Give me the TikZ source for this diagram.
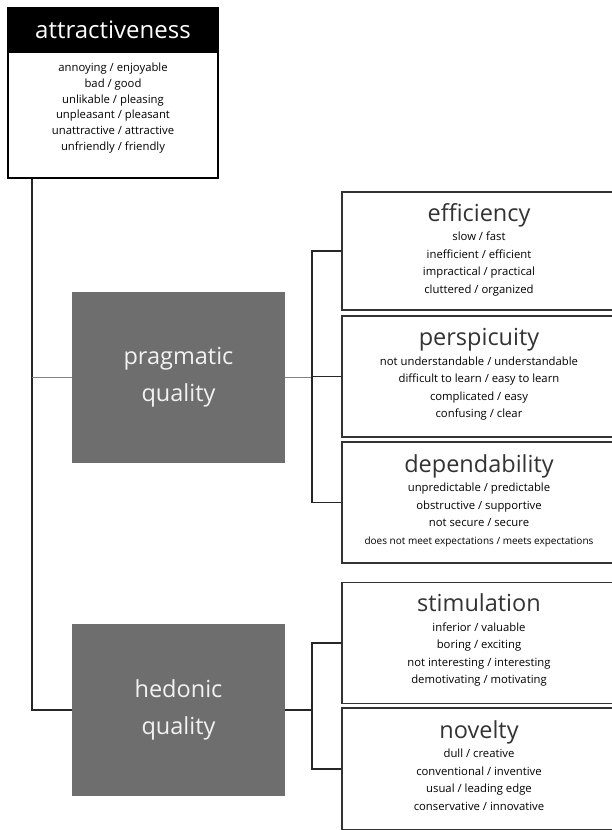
\documentclass[tikz,border=0pt]{standalone}
\usepackage{fontspec}
\setmainfont{Open Sans}
\usetikzlibrary{positioning,calc}

\newcommand{\qhead}[1]{{\fontsize{23.5}{26}\selectfont\color{black!80}#1}}

\tikzset{
  headbar/.style={fill=black, draw=black, line width=1.2pt, text=white, minimum width=210pt, minimum height=44pt, inner sep=0pt, font=\fontsize{24}{26}\selectfont},
  itemlist/.style={align=center, inner sep=0pt, font=\fontsize{11.3}{17.5}\selectfont},
  scalebox/.style={draw=black!80, line width=1.4pt, minimum width=274pt, inner sep=0pt},
  factor/.style={fill=black!57, text=black!5, minimum width=213pt, inner sep=0pt, align=center, font=\fontsize{23.5}{37}\selectfont},
  link/.style={line width=1.2pt, black!85}
}

\begin{document}
\begin{tikzpicture}[x=1pt, y=-1pt]
\useasboundingbox (0,0) rectangle (612,830);

% Attractiveness
\node[headbar] (attr) at (113,30) {attractiveness};
\node[draw=black, line width=1.2pt, minimum width=210pt, minimum height=126pt] (attrbody) at (113,115) {};
\node[itemlist, font=\fontsize{11.3}{15.8}\selectfont] (attrtxt) at (113,108)
  {annoying / enjoyable\\ bad / good\\ unlikable / pleasing\\ unpleasant / pleasant\\ unattractive / attractive\\ unfriendly / friendly};

% Factors
\node[factor, minimum height=171pt] (prag) at (178.5,377.5) {pragmatic\\quality};
\node[factor, minimum height=172pt] (hed) at (178.5,710) {hedonic\\quality};

% Pragmatic scales
\node[scalebox, minimum height=118pt] (eff) at (479,251) {};
\node[scalebox, minimum height=121pt] (per) at (479,376.5) {};
\node[scalebox, minimum height=121pt] (dep) at (479,502.5) {};
\node[itemlist, below=12pt of eff.north] (efftxt)
  {\qhead{efficiency}\\[2pt] slow / fast\\ inefficient / efficient\\ impractical / practical\\ cluttered / organized};
\node[itemlist, below=13pt of per.north] (pertxt)
  {\qhead{perspicuity}\\[2pt] not understandable / understandable\\ difficult to learn / easy to learn\\ complicated / easy\\ confusing / clear};
\node[itemlist, below=13pt of dep.north] (deptxt)
  {\qhead{dependability}\\[2pt] unpredictable / predictable\\ obstructive / supportive\\ not secure / secure\\ {\fontsize{10}{15}\selectfont does not meet expectations / meets expectations}};

% Hedonic scales
\node[scalebox, minimum height=121pt] (stim) at (479,643) {};
\node[scalebox, minimum height=122pt] (nov) at (479,769) {};
\node[itemlist, below=12pt of stim.north] (stimtxt)
  {\qhead{stimulation}\\[2pt] inferior / valuable\\ boring / exciting\\ not interesting / interesting\\ demotivating / motivating};
\node[itemlist, below=13pt of nov.north] (novtxt)
  {\qhead{novelty}\\[2pt] dull / creative\\ conventional / inventive\\ usual / leading edge\\ conservative / innovative};

% Connectors
\coordinate (spine) at (32,0);
\coordinate (pb) at (312,0);
\draw[link] (attrbody.south -| spine) |- (hed.west);
\draw[link, black!50] (prag.west) -- (prag.west -| spine);
\draw[link, black!50] (prag.east) -- (prag.east -| pb);
\draw[link] (eff.west) -| (pb |- dep.west) -- (dep.west);
\draw[link] (per.west) -- (per.west -| pb);
\draw[link] (hed.east) -- (hed.east -| pb);
\draw[link] (stim.west) -| (pb |- nov.west) -- (nov.west);
\end{tikzpicture}
\end{document}
